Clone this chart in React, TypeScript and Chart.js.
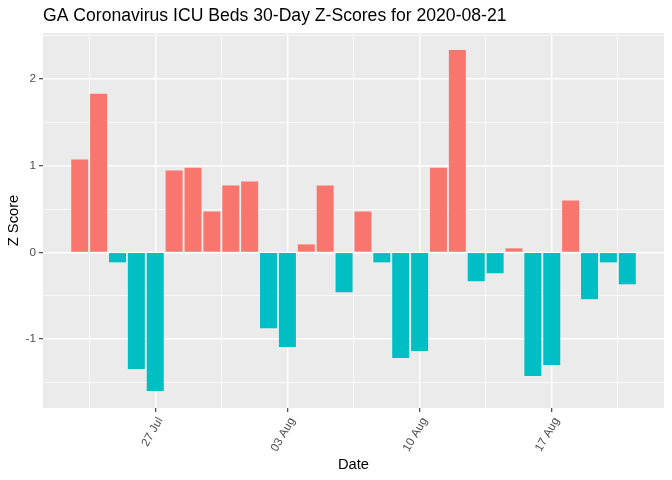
import React, { useEffect, useRef } from 'react';
import { Chart, registerables } from 'chart.js';

Chart.register(...registerables);

const chartTitle = 'GA Coronavirus ICU Beds 30-Day Z-Scores for 2020-08-21';
const xAxisTitle = 'Date';
const yAxisTitle = 'Z Score';

const dates = [
  '2020-07-23', '2020-07-24', '2020-07-25', '2020-07-26', '2020-07-27',
  '2020-07-28', '2020-07-29', '2020-07-30', '2020-07-31', '2020-08-01',
  '2020-08-02', '2020-08-03', '2020-08-04', '2020-08-05', '2020-08-06',
  '2020-08-07', '2020-08-08', '2020-08-09', '2020-08-10', '2020-08-11',
  '2020-08-12', '2020-08-13', '2020-08-14', '2020-08-15', '2020-08-16',
  '2020-08-17', '2020-08-18', '2020-08-19', '2020-08-20', '2020-08-21',
];

const zScores = [
  1.07, 1.83, -0.115, -1.345, -1.598,
  0.943, 0.977, 0.471, 0.77, 0.816,
  -0.874, -1.092, 0.092, 0.77, -0.46,
  0.471, -0.115, -1.218, -1.138, 0.977,
  2.333, -0.333, -0.241, 0.046, -1.425,
  -1.299, 0.598, -0.54, -0.115, -0.368,
];

const xTickDates = ['2020-07-27', '2020-08-03', '2020-08-10', '2020-08-17'];
const xTickLabels = ['27 Jul', '03 Aug', '10 Aug', '17 Aug'];
const yTickValues = [-1, 0, 1, 2];
const yTickLabels = ['-1', '0', '1', '2'];

const positiveColor = '#F8766D';
const negativeColor = '#00BFC4';
const panelColor = '#EBEBEB';
const FONT = '"Liberation Sans", Arial, sans-serif';

export default function App() {
  const canvasRef = useRef<HTMLCanvasElement | null>(null);

  useEffect(() => {
    const canvas = canvasRef.current;
    if (!canvas) return;

    const majorX = xTickDates.map((d) => dates.indexOf(d));
    const minorX: number[] = [];
    majorX.forEach((m) => {
      minorX.push(m - 3.5);
    });
    minorX.push(majorX[majorX.length - 1] + 3.5);
    const xLo = -0.45;
    const xHi = dates.length - 1 + 0.45;
    const xPad = 0.05 * (xHi - xLo);
    const xMin = xLo - xPad;
    const xMax = xHi + xPad;
    const xTicks = [...majorX, ...minorX.filter((v) => v > xMin && v < xMax)].sort((a, b) => a - b);

    const yLo = Math.min(0, ...zScores);
    const yHi = Math.max(0, ...zScores);
    const yPad = 0.05 * (yHi - yLo);
    const yMin = yLo - yPad;
    const yMax = yHi + yPad;
    const yMinor: number[] = [];
    yTickValues.forEach((v) => {
      yMinor.push(v - 0.5);
    });
    yMinor.push(yTickValues[yTickValues.length - 1] + 0.5);
    const yTicks = [...yTickValues, ...yMinor.filter((v) => v > yMin && v < yMax)].sort((a, b) => a - b);

    const isMajorX = (v: number) => majorX.indexOf(v) >= 0;
    const isMajorY = (v: number) => yTickValues.indexOf(v) >= 0;

    const panelPlugin = {
      id: 'ggPanel',
      beforeDraw(chart: any) {
        const { ctx, chartArea } = chart;
        ctx.save();
        ctx.fillStyle = panelColor;
        ctx.fillRect(chartArea.left, chartArea.top, chartArea.right - chartArea.left, chartArea.bottom - chartArea.top);
        ctx.restore();
      },
      afterDraw(chart: any) {
        const { ctx, chartArea } = chart;
        ctx.save();
        ctx.font = `17.6px ${FONT}`;
        ctx.fillStyle = '#000000';
        ctx.textAlign = 'left';
        ctx.textBaseline = 'alphabetic';
        ctx.fillText(chartTitle, chartArea.left, 21);
        ctx.restore();
      },
    };

    const chart = new Chart(canvas, {
      type: 'bar',
      data: {
        datasets: [
          {
            data: zScores.map((v, i) => ({ x: i, y: v })),
            backgroundColor: zScores.map((v) => (v >= 0 ? positiveColor : negativeColor)),
            borderWidth: 0,
            barPercentage: 0.9,
            categoryPercentage: 1,
          },
        ],
      },
      options: {
        responsive: false,
        animation: false,
        layout: { padding: { left: 0, right: 8, top: 33, bottom: 0 } },
        plugins: {
          legend: { display: false },
          tooltip: { enabled: false },
          title: { display: false },
        },
        scales: {
          x: {
            type: 'linear',
            min: xMin,
            max: xMax,
            offset: false,
            afterBuildTicks: (scale: any) => {
              scale.ticks = xTicks.map((v) => ({ value: v }));
            },
            afterFit: (scale: any) => {
              scale.height = 72;
            },
            ticks: {
              autoSkip: false,
              minRotation: 60,
              maxRotation: 60,
              padding: 3,
              labelOffset: 5,
              color: '#4D4D4D',
              font: { family: FONT, size: 11.7 },
              callback: (value: any) => {
                const idx = majorX.indexOf(Number(value));
                return idx >= 0 ? xTickLabels[idx] : '';
              },
            },
            grid: {
              offset: false,
              color: '#FFFFFF',
              lineWidth: (ctx: any) => (ctx.tick && isMajorX(ctx.tick.value) ? 1.4 : 0.7),
              tickColor: (ctx: any) => (ctx.tick && isMajorX(ctx.tick.value) ? '#333333' : 'rgba(0,0,0,0)'),
              tickLength: 4,
              tickWidth: 1.1,
            },
            border: { display: false },
            title: {
              display: true,
              text: xAxisTitle,
              color: '#000000',
              font: { family: FONT, size: 14.7 },
              padding: { top: 0, bottom: 6 },
            },
          },
          y: {
            type: 'linear',
            min: yMin,
            max: yMax,
            afterBuildTicks: (scale: any) => {
              scale.ticks = yTicks.map((v) => ({ value: v }));
            },
            afterFit: (scale: any) => {
              scale.width = 43;
            },
            ticks: {
              autoSkip: false,
              padding: 3,
              color: '#4D4D4D',
              font: { family: FONT, size: 11.7 },
              callback: (value: any) => {
                const idx = yTickValues.indexOf(Number(value));
                return idx >= 0 ? yTickLabels[idx] : '';
              },
            },
            grid: {
              offset: false,
              color: '#FFFFFF',
              lineWidth: (ctx: any) => (ctx.tick && isMajorY(ctx.tick.value) ? 1.4 : 0.7),
              tickColor: (ctx: any) => (ctx.tick && isMajorY(ctx.tick.value) ? '#333333' : 'rgba(0,0,0,0)'),
              tickLength: 4,
              tickWidth: 1.1,
            },
            border: { display: false },
            title: {
              display: true,
              text: yAxisTitle,
              color: '#000000',
              font: { family: FONT, size: 14.7 },
              padding: { top: 5, bottom: 0 },
            },
          },
        },
      } as any,
      plugins: [panelPlugin],
    });

    return () => {
      chart.destroy();
    };
  }, []);

  return (
    <div style={{ position: 'fixed', left: 0, top: 0, width: 672, height: 480, background: '#FFFFFF' }}>
      <canvas ref={canvasRef} width={672} height={480} style={{ display: 'block', width: 672, height: 480 }} />
    </div>
  );
}
